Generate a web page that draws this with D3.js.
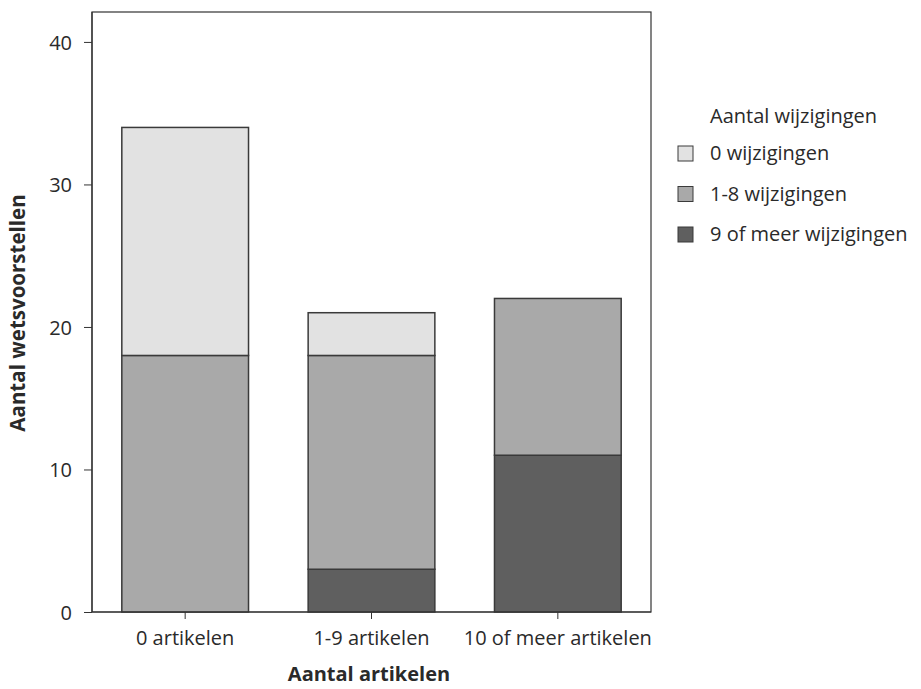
<!DOCTYPE html>
<html><head><meta charset="utf-8">
<script src="https://cdn.jsdelivr.net/npm/d3@7"></script>
<style>body{margin:0;background:#fff}svg{display:block}text{font-family:"Open Sans",sans-serif;fill:#2a2a2a}</style>
</head><body><svg id="c" width="921" height="689"></svg>
<script>
const categories = ["0 artikelen", "1-9 artikelen", "10 of meer artikelen"];
const seriesNames = ["9 of meer wijzigingen", "1-8 wijzigingen", "0 wijzigingen"];
const values9plus = [0, 3, 11];
const values1to8 = [18, 15, 11];
const values0 = [16, 3, 0];
const yTicks = [0, 10, 20, 30, 40];
const legendOrder = ["0 wijzigingen", "1-8 wijzigingen", "9 of meer wijzigingen"];
const colors = {"0 wijzigingen": "#e2e2e2", "1-8 wijzigingen": "#a9a9a9", "9 of meer wijzigingen": "#5f5f5f"};

const svg = d3.select("#c");
const L = 92, R = 651, T = 12, B = 612;
const FS = "20px";
const x = d3.scaleBand().domain(categories).range([L, R]).paddingInner(0.32).paddingOuter(0.16);
const y = d3.scaleLinear().domain([0, 42.1]).range([B, T]);

const rows = categories.map((c, i) => ({cat: c, "9 of meer wijzigingen": values9plus[i], "1-8 wijzigingen": values1to8[i], "0 wijzigingen": values0[i]}));
const stack = d3.stack().keys(seriesNames)(rows);

svg.append("rect").attr("x", L).attr("y", T).attr("width", R - L).attr("height", B - T)
  .attr("fill", "none").attr("stroke", "#333").attr("stroke-width", 1.2);

stack.forEach(s => {
  svg.append("g").selectAll("rect").data(s.filter(d => d[1] - d[0] > 0)).join("rect")
    .attr("x", d => x(d.data.cat)).attr("width", x.bandwidth())
    .attr("y", d => y(d[1])).attr("height", d => y(d[0]) - y(d[1]))
    .attr("fill", colors[s.key]).attr("stroke", "#3a3a3a").attr("stroke-width", 1.5);
});

const ya = svg.append("g").attr("transform", `translate(${L},0)`)
  .call(d3.axisLeft(y).tickValues(yTicks).tickSize(8).tickPadding(12));
const xa = svg.append("g").attr("transform", `translate(0,${B})`)
  .call(d3.axisBottom(x).tickSize(7).tickPadding(12));
[ya, xa].forEach(a => {
  a.select(".domain").attr("stroke", "#333").attr("stroke-width", 1.2);
  a.selectAll(".tick line").attr("stroke", "#333");
  a.selectAll("text").style("font-family", "'Open Sans', sans-serif").style("font-size", FS).attr("fill", "#2a2a2a");
});
ya.selectAll("text").attr("dy", "0.36em");
ya.select(".domain").attr("d", `M0,${T}V${B}`);
xa.select(".domain").attr("d", `M${L},0H${R}`);

svg.append("text").attr("x", 369).attr("y", 681).attr("text-anchor", "middle")
  .style("font-size", "20px").style("font-weight", "bold").text("Aantal artikelen");
svg.append("text").attr("transform", `translate(25,313) rotate(-90)`).attr("text-anchor", "middle")
  .style("font-size", "20.5px").style("font-weight", "bold").text("Aantal wetsvoorstellen");

const lg = svg.append("g");
lg.append("text").attr("x", 710).attr("y", 123).style("font-size", FS).text("Aantal wijzigingen");
legendOrder.forEach((k, i) => {
  const base = 160 + i * 40.5;
  lg.append("rect").attr("x", 678).attr("y", base - 14).attr("width", 15).attr("height", 15)
    .attr("fill", colors[k]).attr("stroke", "#3a3a3a").attr("stroke-width", 1);
  lg.append("text").attr("x", 710).attr("y", base).style("font-size", FS).text(k);
});
</script></body></html>
